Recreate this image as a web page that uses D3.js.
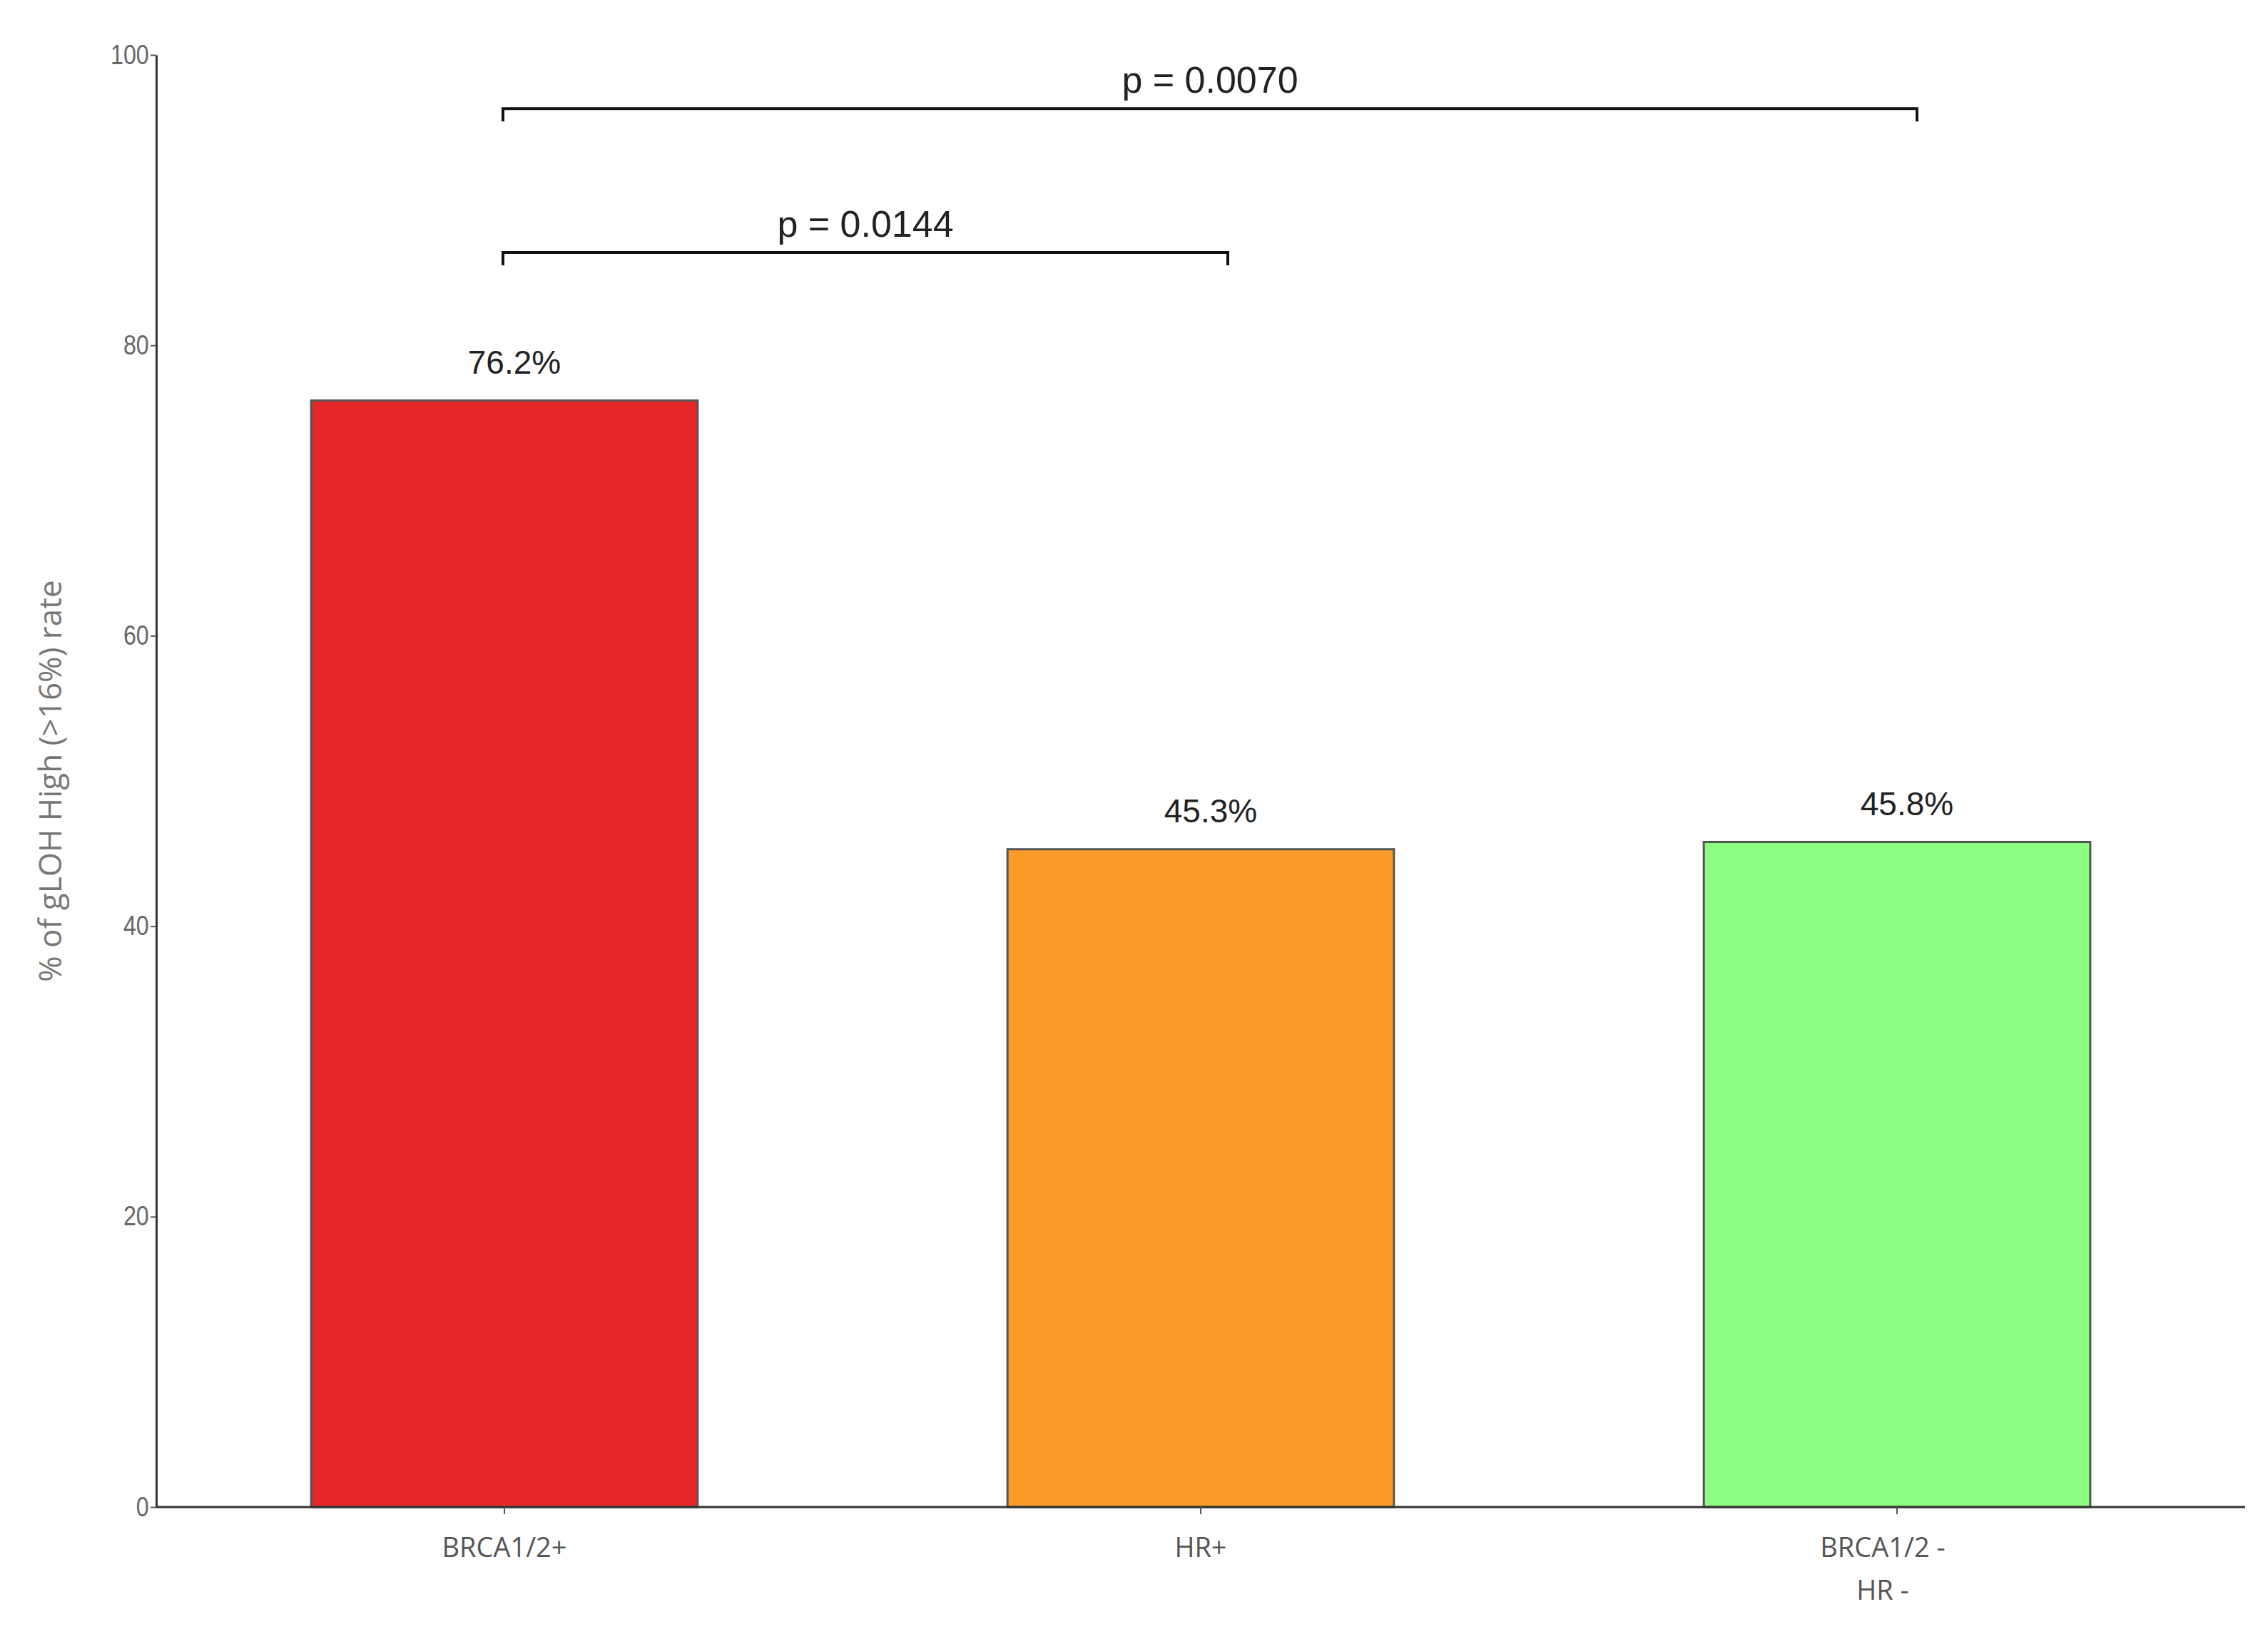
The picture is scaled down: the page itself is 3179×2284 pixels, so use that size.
<!DOCTYPE html>
<html><head><meta charset="utf-8">
<script src="https://cdn.jsdelivr.net/npm/d3@7"></script>
<style>body{margin:0;background:#fff}</style></head>
<body><svg id="c" width="3179" height="2284"></svg>
<script>
const categories = ["BRCA1/2+", "HR+", "BRCA1/2 -\nHR -"];
const values = [76.2, 45.3, 45.8];
const valueLabels = ["76.2%", "45.3%", "45.8%"];
const colors = ["#e6282b", "#f99b26", "#8cfd80"];
const yTicks = [0, 20, 40, 60, 80, 100];
const comparisons = [
  {from: 0, to: 1, y: 86.4, label: "p = 0.0144"},
  {from: 0, to: 2, y: 96.3, label: "p = 0.0070"}
];

const svg = d3.select("#c");
const x0 = 219, x1 = 3147, yb = 2113, yt = 77;
const x = d3.scaleBand().domain(categories).range([x0, x1]).paddingInner(0.445).paddingOuter(0.2225);
const y = d3.scaleLinear().domain([0, 100]).range([yb, yt]);

// bars
svg.selectAll("rect.bar").data(values).join("rect")
  .attr("x", (d,i)=>x(categories[i])).attr("width", x.bandwidth())
  .attr("y", d=>y(d)).attr("height", d=>y(0)-y(d))
  .attr("fill", (d,i)=>colors[i]).attr("stroke", "#555").attr("stroke-width", 3);

// y axis
const ya = svg.append("g").attr("transform", `translate(${x0},0)`)
  .call(d3.axisLeft(y).tickValues(yTicks).tickSize(8).tickSizeOuter(0));
ya.select(".domain").attr("stroke", "#333").attr("stroke-width", 3);
ya.selectAll(".tick line").attr("stroke", "#555").attr("stroke-width", 2);
ya.selectAll(".tick text").attr("font-family", "Liberation Sans").attr("font-size", 38)
  .attr("fill", "#666").attr("x", -12).attr("transform", "scale(0.85,1)");

// x axis
const xa = svg.append("g").attr("transform", `translate(0,${yb})`)
  .call(d3.axisBottom(x).tickSize(10).tickSizeOuter(0).tickFormat(""));
xa.select(".domain").attr("stroke", "#333").attr("stroke-width", 3).attr("d", `M${x0},0H${x1}`);
xa.selectAll(".tick line").attr("stroke", "#555").attr("stroke-width", 2);
categories.forEach(c => {
  const lines = c.split("\n");
  const t = svg.append("text").attr("x", x(c)+x.bandwidth()/2 - (lines.length>1?20:0))
    .attr("y", yb+70).attr("text-anchor", "middle")
    .attr("font-family", "Open Sans").attr("font-size", 38).attr("fill", "#555");
  lines.forEach((l,i)=>t.append("tspan").attr("x", x(c)+x.bandwidth()/2 - (lines.length>1?20:0) - (i===1?0:0)).attr("dy", i?60:0).text(l));
});

// value labels
svg.selectAll("text.val").data(values).join("text")
  .attr("x", (d,i)=>x(categories[i])+x.bandwidth()/2+14).attr("y", d=>y(d)-38)
  .attr("text-anchor", "middle").attr("font-family", "Liberation Sans").attr("font-size", 46)
  .attr("fill", "#222").text((d,i)=>valueLabels[i]);

// comparison brackets
comparisons.forEach(c => {
  const xa_ = x(categories[c.from]) + x.bandwidth()/2 - 2;
  const xb_ = x(categories[c.to]) + x.bandwidth()/2 + (c.to===1?38:28);
  const yy = y(c.y);
  svg.append("path").attr("d", `M${xa_},${yy+18}V${yy}H${xb_}V${yy+18}`)
    .attr("fill", "none").attr("stroke", "#111").attr("stroke-width", 4);
  svg.append("text").attr("x", (xa_+xb_)/2).attr("y", yy-22).attr("text-anchor", "middle")
    .attr("font-family", "Liberation Sans").attr("font-size", 52).attr("fill", "#222").text(c.label);
});

// y title
svg.append("text").attr("transform", `translate(86,${(yt+yb)/2}) rotate(-90)`)
  .attr("text-anchor", "middle").attr("font-family", "Open Sans").attr("font-size", 44)
  .attr("fill", "#777").text("% of gLOH High (>16%) rate");
</script></body></html>
